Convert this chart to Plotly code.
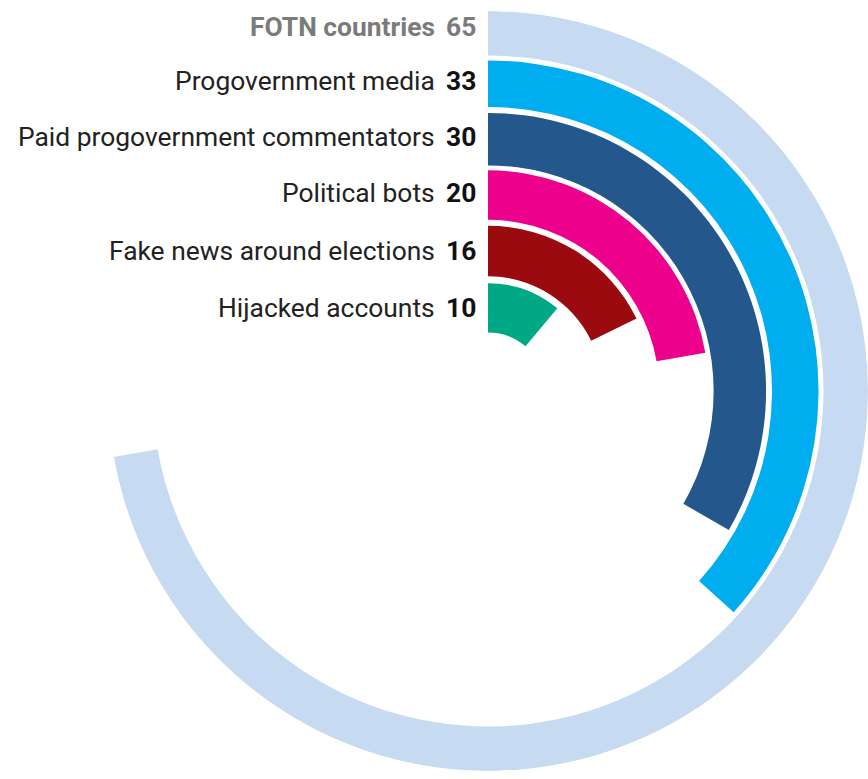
import plotly.graph_objects as go

# ---- data ----
categories = ["FOTN countries", "Progovernment media", "Paid progovernment commentators",
              "Political bots", "Fake news around elections", "Hijacked accounts"]
values = [65, 33, 30, 20, 16, 10]
colors = ["#c6daf1", "#00aeef", "#24578b", "#ec008c", "#9b0a0e", "#00a886"]

# ---- layout geometry (ring radii in px-like units, outer = 384) ----
SCALE_MAX = 90          # a full circle corresponds to 90 countries
ring_inner = [339, 287, 228, 173, 116, 59]
ring_outer = [384, 334, 281, 223, 167, 109]
R_RANGE = 384

W, H = 868, 779
cx, cy, R = 488, 391, 380   # pixel centre / radius of polar area

deg = [v * 360.0 / SCALE_MAX for v in values]

fig = go.Figure()
fig.add_trace(go.Barpolar(
    theta=[d / 2 for d in deg],
    width=deg,
    base=ring_inner,
    r=[o - i for o, i in zip(ring_outer, ring_inner)],
    marker=dict(color=colors, line=dict(width=0)),
    hoverinfo="skip",
    showlegend=False,
))

annotations = []
FS = 26.4
label_shift = [2, 0, 0, 0, -1, -1]
for i, (cat, val) in enumerate(zip(categories, values)):
    mid = (ring_inner[i] + ring_outer[i]) / 2.0
    ypx = cy - mid - label_shift[i]
    ypaper = (H - ypx) / H
    if i == 0:
        lab_font = dict(family="Roboto", size=FS, color="#7b7b7b")
        num_font = dict(family="Roboto", size=FS, color="#7b7b7b")
        lab_text = "<b>" + cat + "</b>"
    else:
        lab_font = dict(family="Roboto", size=FS, color="#222222")
        num_font = dict(family="Roboto", size=FS, color="#111111")
        lab_text = cat
    annotations.append(dict(x=437 / W, y=ypaper, xref="paper", yref="paper",
                            text=lab_text, showarrow=False, xanchor="right",
                            yanchor="middle", font=lab_font))
    annotations.append(dict(x=478 / W, y=ypaper, xref="paper", yref="paper",
                            text="<b>%d</b>" % val, showarrow=False, xanchor="right",
                            yanchor="middle", font=num_font))

fig.update_layout(
    width=W, height=H,
    margin=dict(l=0, r=0, t=0, b=0, pad=0),
    paper_bgcolor="white",
    plot_bgcolor="white",
    polar=dict(
        domain=dict(x=[(cx - R) / W, (cx + R) / W],
                    y=[(H - cy - R) / H, (H - cy + R) / H]),
        bgcolor="white",
        radialaxis=dict(range=[0, R_RANGE], visible=False, showgrid=False,
                        showline=False, showticklabels=False, ticks=""),
        angularaxis=dict(rotation=90, direction="clockwise", visible=False,
                         showgrid=False, showline=False, showticklabels=False,
                         ticks=""),
        bargap=0,
    ),
    annotations=annotations,
)

fig.write_html("out.html")
